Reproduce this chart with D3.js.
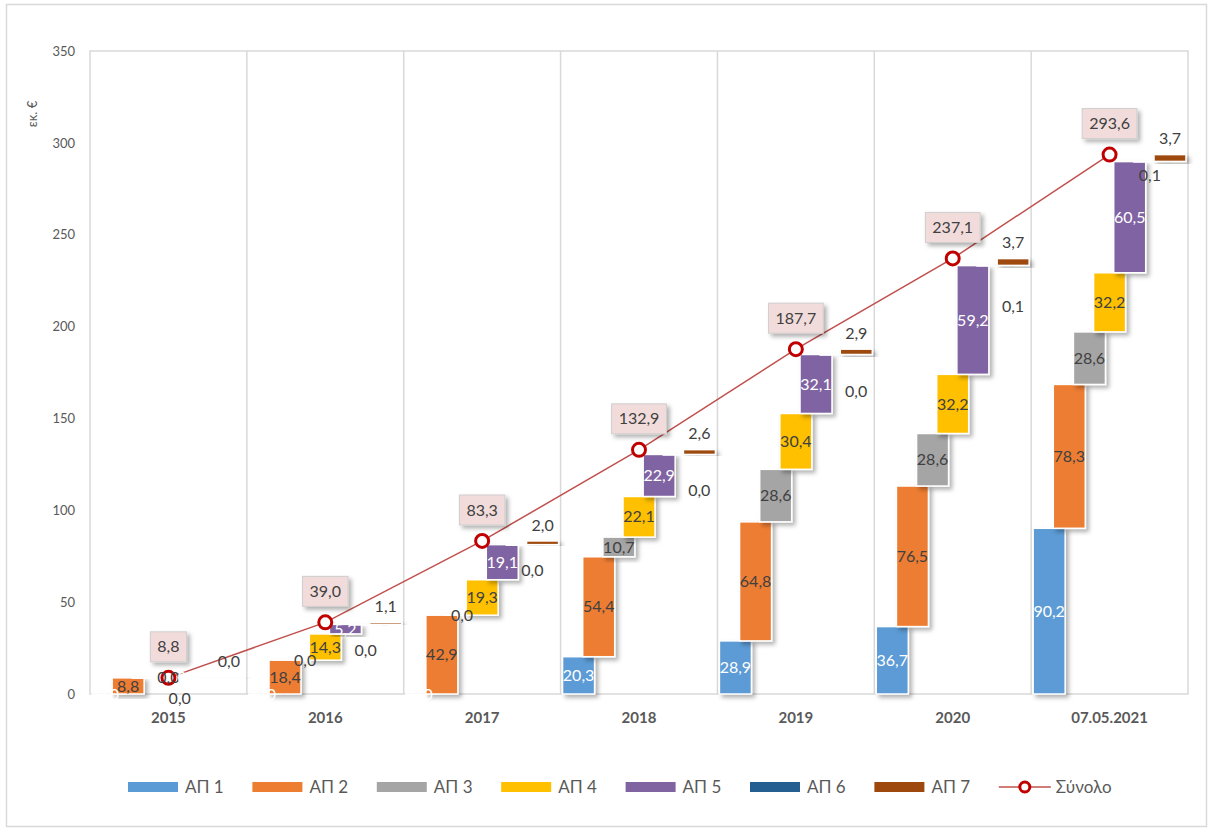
<!DOCTYPE html>
<html>
<head>
<meta charset="utf-8">
<script src="https://cdn.jsdelivr.net/npm/d3@7"></script>
<style>
    body { margin: 0; background: #fff; }
    text { font-family: Lato, "Noto Sans", sans-serif; }
</style>
</head>
<body>
<svg id="chart"></svg>
<script>
// categories and series
var years = ['2015', '2016', '2017', '2018', '2019', '2020', '07.05.2021'];
var series = ['ΑΠ 1', 'ΑΠ 2', 'ΑΠ 3', 'ΑΠ 4', 'ΑΠ 5', 'ΑΠ 6', 'ΑΠ 7'];
var ap1 = [0.0, 0.0, 0.0, 20.3, 28.9, 36.7, 90.2];
var ap2 = [8.8, 18.4, 42.9, 54.4, 64.8, 76.5, 78.3];
var ap3 = [0.0, 0.0, 0.0, 10.7, 28.6, 28.6, 28.6];
var ap4 = [0.0, 14.3, 19.3, 22.1, 30.4, 32.2, 32.2];
var ap5 = [0.0, 5.2, 19.1, 22.9, 32.1, 59.2, 60.5];
var ap6 = [0.0, 0.0, 0.0, 0.0, 0.0, 0.1, 0.1];
var ap7 = [0.0, 1.1, 2.0, 2.6, 2.9, 3.7, 3.7];
var totals = [8.8, 39.0, 83.3, 132.9, 187.7, 237.1, 293.6];
var yTicks = [0, 50, 100, 150, 200, 250, 300, 350];

var values = [ap1, ap2, ap3, ap4, ap5, ap6, ap7];
var colors = ['#5b9bd5', '#ed7d31', '#a5a5a5', '#ffc000', '#8064a2', '#255e91', '#9e480e'];
var labelColors = ['#ffffff', '#404040', '#404040', '#404040', '#ffffff', '#404040', '#404040'];

// hand-moved labels of ΑΠ 6 (offset from the bar, px)
var ap6LabelDx = [-29, 0, 10, 20, 20, 20, 0];
var ap6LabelDy = [21, 26, 26, 36, 37, 41, 14];
var hiddenLabels = ['0-2'];

var width = 1212,
    height = 832,
    plotL = 90,
    plotR = 1188,
    plotT = 51,
    plotB = 694,
    barW = 32;

var fmt = function (v) { return d3.format('.1f')(v).replace('.', ','); };

var svg = d3.select('#chart')
    .attr('width', width)
    .attr('height', height);

var defs = svg.append('defs');
defs.append('filter')
    .attr('id', 'shadow')
    .attr('x', '-30%').attr('y', '-30%')
    .attr('width', '160%').attr('height', '160%')
    .append('feDropShadow')
    .attr('dx', 3).attr('dy', 3)
    .attr('stdDeviation', 2)
    .attr('flood-color', '#000')
    .attr('flood-opacity', 0.3);

var x = d3.scaleBand()
    .domain(years)
    .range([plotL, plotR]);

var xs = d3.scalePoint()
    .domain(series)
    .range([2 + barW / 2, x.bandwidth() - 2 - barW / 2]);

var y = d3.scaleLinear()
    .domain([0, 350])
    .range([plotB, plotT]);

// outer frame
svg.append('rect')
    .attr('x', 6.5).attr('y', 4.5)
    .attr('width', 1200).attr('height', 822)
    .attr('fill', 'none')
    .attr('stroke', '#d9d9d9')
    .attr('stroke-width', 1.5);

// plot frame + vertical grid
svg.append('rect')
    .attr('x', plotL).attr('y', plotT)
    .attr('width', plotR - plotL).attr('height', plotB - plotT)
    .attr('fill', 'none')
    .attr('stroke', '#d9d9d9')
    .attr('stroke-width', 1.5);

svg.append('g')
    .selectAll('line')
    .data(years.slice(1))
    .join('line')
    .attr('x1', function (d) { return x(d); })
    .attr('x2', function (d) { return x(d); })
    .attr('y1', plotT)
    .attr('y2', plotB)
    .attr('stroke', '#d9d9d9')
    .attr('stroke-width', 1.5);

// y axis
var yAxis = svg.append('g')
    .attr('transform', 'translate(' + (plotL - 15) + ',0)')
    .call(d3.axisLeft(y).tickValues(yTicks).tickSize(0).tickPadding(0));
yAxis.select('.domain').remove();
yAxis.selectAll('text')
    .attr('fill', '#595959')
    .style('font-size', '13px');

svg.append('text')
    .attr('transform', 'translate(37,114) rotate(-90)')
    .attr('text-anchor', 'middle')
    .attr('fill', '#595959')
    .style('font-size', '13px')
    .text('εκ. €');

// x axis
var xAxis = svg.append('g')
    .attr('transform', 'translate(0,' + plotB + ')')
    .call(d3.axisBottom(x).tickSize(0).tickPadding(18));
xAxis.select('.domain').remove();
xAxis.selectAll('text')
    .attr('fill', '#595959')
    .style('font-size', '15px')
    .style('font-weight', 'bold');

// floating bars
var bars = [];
years.forEach(function (yr, i) {
    var base = 0;
    values.forEach(function (arr, s) {
        bars.push({ year: yr, yi: i, s: s, v: arr[i], y0: base, y1: base + arr[i] });
        base += arr[i];
    });
});

var barG = svg.append('g');
barG.selectAll('rect')
    .data(bars)
    .join('rect')
    .attr('x', function (d) { return x(d.year) + xs(series[d.s]) - barW / 2; })
    .attr('y', function (d) { return y(d.y1); })
    .attr('width', barW)
    .attr('height', function (d) { return Math.max(y(d.y0) - y(d.y1), 0.6); })
    .attr('fill', function (d) { return colors[d.s]; })
    .attr('stroke', '#fff')
    .attr('stroke-width', 1.5)
    .attr('filter', 'url(#shadow)');

// total line
var line = d3.line()
    .x(function (d, i) { return x(years[i]) + x.bandwidth() / 2; })
    .y(function (d) { return y(d); });

svg.append('path')
    .datum(totals)
    .attr('d', line)
    .attr('fill', 'none')
    .attr('stroke', '#c0504d')
    .attr('stroke-width', 1.5);

svg.append('g')
    .selectAll('circle')
    .data(totals)
    .join('circle')
    .attr('cx', function (d, i) { return x(years[i]) + x.bandwidth() / 2; })
    .attr('cy', function (d) { return y(d); })
    .attr('r', 6.5)
    .attr('fill', '#fff')
    .attr('stroke', '#c00000')
    .attr('stroke-width', 3);

// bar labels
svg.append('g')
    .selectAll('text')
    .data(bars.filter(function (d) { return hiddenLabels.indexOf(d.yi + '-' + d.s) < 0; }))
    .join('text')
    .attr('x', function (d) {
        var cx = x(d.year) + xs(series[d.s]);
        if (d.s === 5) { cx += ap6LabelDx[d.yi]; }
        return cx;
    })
    .attr('y', function (d) {
        if (d.s === 6) { return y(d.y1) - 16; }
        if (d.s === 5) { return y(d.y1) + ap6LabelDy[d.yi]; }
        return (y(d.y0) + y(d.y1)) / 2;
    })
    .attr('dy', '0.35em')
    .attr('text-anchor', 'middle')
    .attr('fill', function (d) { return labelColors[d.s]; })
    .style('font-size', '16px')
    .text(function (d) { return fmt(d.v); });

// total labels in boxes
var totalG = svg.append('g')
    .selectAll('g')
    .data(totals)
    .join('g')
    .attr('transform', function (d, i) {
        return 'translate(' + (x(years[i]) + x.bandwidth() / 2) + ',' + (y(d) - 31) + ')';
    });

totalG.append('text')
    .attr('text-anchor', 'middle')
    .attr('dy', '0.35em')
    .attr('fill', '#404040')
    .style('font-size', '16px')
    .text(function (d) { return fmt(d); })
    .each(function () {
        var bb = this.getBBox();
        d3.select(this.parentNode).insert('rect', 'text')
            .attr('x', -bb.width / 2 - 7)
            .attr('y', -15)
            .attr('width', bb.width + 14)
            .attr('height', 30)
            .attr('fill', '#f2dcdb')
            .attr('stroke', '#d0cece')
            .attr('stroke-width', 1)
            .attr('filter', 'url(#shadow)');
    });

// legend
var legend = svg.append('g')
    .attr('transform', 'translate(128,782)');

var items = series.concat(['Σύνολο']);
var item = legend.selectAll('g')
    .data(items)
    .join('g')
    .attr('transform', function (d, i) { return 'translate(' + (i * 124.4) + ',0)'; });

item.filter(function (d, i) { return i < 7; })
    .append('rect')
    .attr('width', 50)
    .attr('height', 10)
    .attr('fill', function (d, i) { return colors[i]; });

var tot = item.filter(function (d, i) { return i === 7; });
tot.append('line')
    .attr('x1', 0).attr('x2', 52)
    .attr('y1', 5).attr('y2', 5)
    .attr('stroke', '#c0504d')
    .attr('stroke-width', 1.5);
tot.append('circle')
    .attr('cx', 26).attr('cy', 5)
    .attr('r', 5)
    .attr('fill', '#fff')
    .attr('stroke', '#c00000')
    .attr('stroke-width', 3);

item.append('text')
    .attr('x', 57)
    .attr('y', 5)
    .attr('dy', '0.35em')
    .attr('fill', '#595959')
    .style('font-size', '17px')
    .text(function (d) { return d; });
</script>
</body>
</html>
